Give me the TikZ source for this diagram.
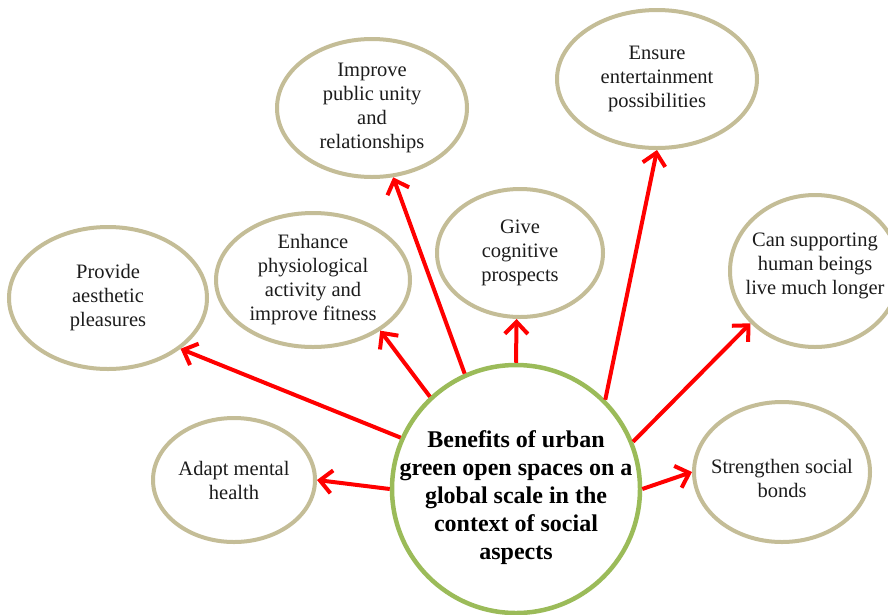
\documentclass[tikz,border=0pt]{standalone}
\usepackage{fontspec}
\setmainfont{Liberation Serif}
\usetikzlibrary{shapes.geometric,arrows.meta}
\definecolor{ringtan}{RGB}{196,189,151}
\definecolor{hubgreen}{RGB}{155,187,89}
\definecolor{linkred}{RGB}{255,0,0}
\definecolor{inktext}{RGB}{28,28,28}
\tikzset{
  benefit/.style={ellipse, draw=ringtan, line width=4pt, fill=white, inner sep=0pt},
  benefittext/.style={align=center, text=inktext, inner sep=0pt, font=\fontsize{20.5}{24}\selectfont},
  hub/.style={circle, draw=hubgreen, line width=4.5pt, fill=white, minimum size=248pt, inner sep=0pt},
  hubtext/.style={align=center, text=black, inner sep=0pt, font=\bfseries\fontsize{24}{28}\selectfont},
  link/.style={draw=linkred, line width=4pt, -{Straight Barb[length=12pt, width=23pt]}},
}
\begin{document}
\begin{tikzpicture}[x=1pt, y=-1pt]
  \fill[white] (0,0) rectangle (888,614);
  \useasboundingbox (0,0) rectangle (888,614);
  \clip (0,0) rectangle (888,614);

  % outer benefit bubbles
  \node[benefit, minimum width=198pt, minimum height=142pt] (aesthetic) at (108,298) {};
  \node[benefittext] (aestheticlabel) at (aesthetic) {Provide\\aesthetic\\pleasures};

  \node[benefit, minimum width=194pt, minimum height=134pt] (fitness) at (313,280) {};
  \node[benefittext] (fitnesslabel) at (fitness) {Enhance\\physiological\\activity and\\improve fitness};

  \node[benefit, minimum width=190pt, minimum height=138pt] (unity) at (372,108) {};
  \node[benefittext] (unitylabel) at (unity) {Improve\\public unity\\and\\relationships};

  \node[benefit, minimum width=166pt, minimum height=128pt] (cognitive) at (520,253) {};
  \node[benefittext] (cognitivelabel) at (cognitive) {Give\\cognitive\\prospects};

  \node[benefit, minimum width=200pt, minimum height=138pt] (leisure) at (657,79) {};
  \node[benefittext] (leisurelabel) at (leisure) {Ensure\\entertainment\\possibilities};

  \node[benefit, minimum width=170pt, minimum height=152pt] (longevity) at (815,271) {};
  \node[benefittext] (longevitylabel) at (815,266) {Can supporting\\human beings\\live much longer};

  \node[benefit, minimum width=162pt, minimum height=124pt] (mental) at (234,480) {};
  \node[benefittext] (mentallabel) at (mental) {Adapt mental\\health};

  \node[benefit, minimum width=176pt, minimum height=140pt] (bonds) at (782,472) {};
  \node[benefittext] (bondslabel) at (782,478) {Strengthen social\\bonds};

  % central circle and the connectors leaving it
  \node[hub] (hub) at (516,489) {};
  \draw[link] (hub.156) -- (aesthetic.-35);
  \draw[link] (hub.133) -- (fitness.-37);
  \draw[link] (hub.114) -- (unity.-73);
  \draw[link] (hub.90) -- (cognitive.-93);
  \draw[link] (hub.45) -- (leisure.-90);
  \draw[link] (hub.22) -- (longevity.-141);
  \draw[link] (hub.0) -- (bonds.180);
  \draw[link] (hub.180) -- (mental.0);
  \node[hubtext] (hublabel) at (516,498) {Benefits of urban\\green open spaces on a\\global scale in the\\context of social\\aspects};
\end{tikzpicture}
\end{document}
